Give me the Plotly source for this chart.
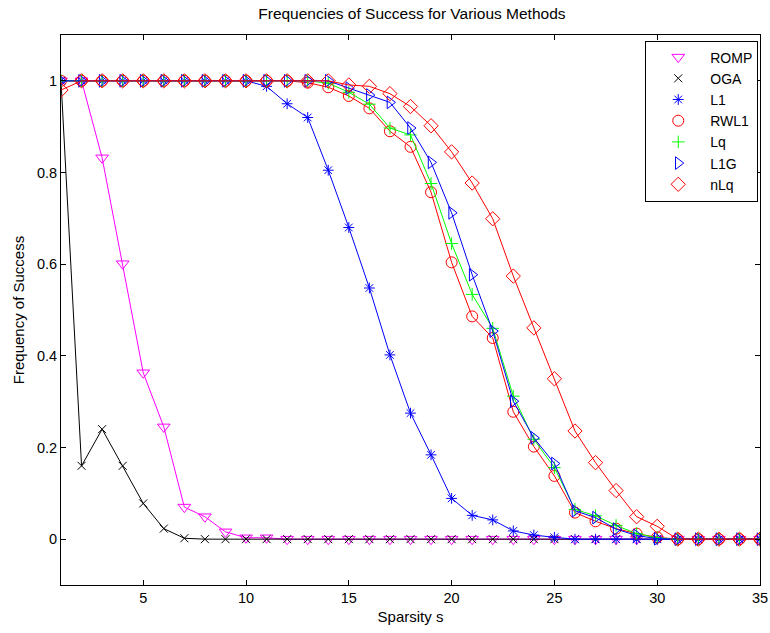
import plotly.graph_objects as go

sparsity = list(range(1, 36))

romp = [1, 1, 0.832, 0.601, 0.363, 0.245, 0.07, 0.049, 0.016, 0.003, 0.003] + [0] * 24
oga = [1, 0.16, 0.24, 0.16, 0.078, 0.023, 0.002] + [0] * 28
l1 = [1] * 10 + [0.988, 0.95, 0.92, 0.805, 0.68, 0.548, 0.402, 0.275, 0.184, 0.089,
                 0.052, 0.042, 0.018, 0.009, 0.004] + [0] * 10
rwl1 = [1] * 12 + [0.996, 0.986, 0.967, 0.94, 0.89, 0.856, 0.757, 0.604, 0.486, 0.439,
                   0.278, 0.202, 0.138, 0.058, 0.039, 0.023, 0.012, 0.004] + [0] * 5
lq = [1] * 13 + [0.995, 0.975, 0.949, 0.897, 0.882, 0.776, 0.645, 0.534, 0.46,
                 0.312, 0.218, 0.156, 0.065, 0.051, 0.03, 0.012, 0.003] + [0] * 5
l1g = [1] * 13 + [1.0, 0.984, 0.969, 0.953, 0.897, 0.822, 0.712, 0.577, 0.454,
                  0.301, 0.221, 0.165, 0.062, 0.047, 0.022, 0.008, 0.001] + [0] * 5
nlq = [0.98] + [1] * 13 + [0.991, 0.988, 0.972, 0.944, 0.902, 0.845, 0.777, 0.699,
                           0.574, 0.461, 0.35, 0.236, 0.167, 0.106, 0.049, 0.028] + [0] * 5

x_ticks = [5, 10, 15, 20, 25, 30, 35]
y_ticks = [0, 0.2, 0.4, 0.6, 0.8, 1]
y_tick_labels = ["0", "0.2", "0.4", "0.6", "0.8", "1"]

series = [
    ("ROMP", romp, "#ff00ff", "triangle-down-open", 11),
    ("OGA", oga, "#000000", "x-thin-open", 8),
    ("L1", l1, "#0000ff", "asterisk-open", 9),
    ("RWL1", rwl1, "#ff0000", "circle-open", 11),
    ("Lq", lq, "#00ff00", "cross-thin-open", 9),
    ("L1G", l1g, "#0000ff", "triangle-right-open", 11),
    ("nLq", nlq, "#ff0000", "diamond-open", 11),
]

FONT = "Liberation Sans, Arial, Helvetica"

fig = go.Figure()
for name, vals, color, sym, sz in series:
    fig.add_trace(go.Scatter(
        x=sparsity, y=vals, mode="lines", name=name, showlegend=False,
        line=dict(color=color, width=1)))
    fig.add_trace(go.Scatter(
        x=sparsity, y=vals, mode="markers", name=name,
        marker=dict(symbol=sym, size=sz, color=color, line=dict(color=color, width=1))))

axis_common = dict(
    showgrid=False, zeroline=False, showline=True, linecolor="black", linewidth=1,
    mirror="ticks", ticks="inside", ticklen=5, tickcolor="black", automargin=False,
    ticklabeloverflow="allow",
    tickfont=dict(family=FONT, size=14.5, color="black"),
)

fig.update_layout(
    width=770, height=633,
    paper_bgcolor="white", plot_bgcolor="white",
    margin=dict(l=61, r=10, t=35, b=48),
    title=dict(text="Frequencies of Success for Various Methods", x=0.502, xanchor="center",
               xref="paper", y=0.979, yanchor="middle",
               font=dict(family=FONT, size=15.5, color="black")),
    xaxis=dict(range=[1, 35], tickvals=x_ticks,
               title=dict(text="Sparsity s", standoff=6,
                          font=dict(family=FONT, size=15, color="black")),
               **axis_common),
    yaxis=dict(range=[-0.1, 1.1], tickvals=y_ticks, ticktext=y_tick_labels,
               title=dict(text="Frequency of Success", standoff=8,
                          font=dict(family=FONT, size=15, color="black")),
               **axis_common),
    legend=dict(x=0.9975, y=0.99, xanchor="right", yanchor="top",
                bgcolor="white", bordercolor="black", borderwidth=1,
                font=dict(family=FONT, size=14, color="black"),
                tracegroupgap=0, itemwidth=54),
    showlegend=True,
)

fig.write_html("out.html", config={"displayModeBar": False},
               post_script="document.body.style.margin='0';document.body.style.overflow='hidden';")
